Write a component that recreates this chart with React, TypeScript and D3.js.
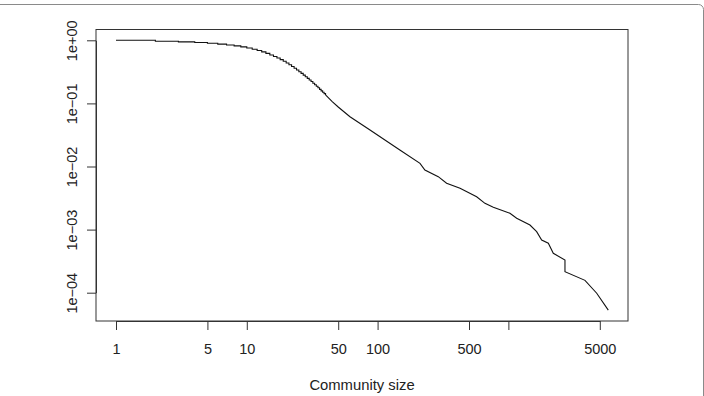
import React, { useEffect, useRef } from "react";
import * as d3 from "d3";

// community sizes with tied values (drawn as a staircase)
const headSizes = [1, 2, 3, 4, 5, 6, 7, 8, 9, 10, 11, 12, 13, 14, 15, 16, 17, 18, 19, 20,
  21, 22, 23, 24, 25, 26, 27, 28, 29, 30, 31, 32, 33, 34, 35, 36, 37, 38, 39, 40];
const headCcdf = [1.0, 0.965, 0.945, 0.925, 0.9, 0.87, 0.842, 0.815, 0.787, 0.755,
  0.722, 0.689, 0.655, 0.62, 0.586, 0.554, 0.523, 0.494, 0.465, 0.437,
  0.41, 0.385, 0.361, 0.339, 0.318, 0.299, 0.281, 0.264, 0.249, 0.235,
  0.222, 0.209, 0.198, 0.187, 0.177, 0.167, 0.158, 0.15, 0.143, 0.136];

// larger, distinct community sizes
const tailSizes = [40, 45, 50, 61.5, 87.5, 148, 211, 230, 291, 337, 427, 572, 662, 767,
  1028, 1157, 1462, 1645, 1797, 2020, 2205, 2708, 2708, 3852, 4736, 5805];
const tailCcdf = [0.136, 0.107, 0.0876, 0.0615, 0.0379, 0.0183, 0.0112, 0.0088, 0.0069,
  0.00542, 0.00451, 0.00332, 0.00261, 0.00226, 0.00181, 0.00151, 0.00118, 0.000926,
  0.000684, 0.000607, 0.000421, 0.00033, 0.000215, 0.000157, 0.000098, 0.000053];

const xTicks = [1, 5, 10, 50, 100, 500, 1000, 5000];
const xTickLabels = ["1", "5", "10", "50", "100", "500", "", "5000"];
const yTicks = [1, 0.1, 0.01, 0.001, 0.0001];
const yTickLabels = ["1e+00", "1e\u221201", "1e\u221202", "1e\u221203", "1e\u221204"];

const FONT = "'Liberation Sans', Arial, Helvetica, sans-serif";

const drawChart = (node: SVGSVGElement) => {
  const svg = d3.select(node);
  svg.selectAll("*").remove();

  // plot box edges
  const box = { left: 96, right: 628, top: 29.5, bottom: 321 };

  const x = d3.scaleLog().domain([1, 5000]).range([116, 599.8]);
  const y = d3.scaleLog().domain([1, 0.0001]).range([40.3, 292.7]);

  // outer figure frame
  svg.append("rect")
    .attr("x", -10).attr("y", 4.5)
    .attr("width", 713.5).attr("height", 500)
    .attr("rx", 5)
    .attr("fill", "none")
    .attr("stroke", "#8a8a8a")
    .attr("stroke-width", 1);

  // plot box
  svg.append("rect")
    .attr("x", box.left).attr("y", box.top)
    .attr("width", box.right - box.left).attr("height", box.bottom - box.top)
    .attr("fill", "none")
    .attr("stroke", "#333")
    .attr("stroke-width", 1);

  // x axis
  const xAxis = svg.append("g")
    .attr("transform", "translate(0," + box.bottom + ")")
    .call(d3.axisBottom(x)
      .tickValues(xTicks)
      .tickFormat((d, i) => xTickLabels[i])
      .tickSize(9)
      .tickSizeOuter(0)
      .tickPadding(14));
  xAxis.select(".domain").attr("stroke", "#333");
  xAxis.selectAll("line").attr("stroke", "#333");
  xAxis.selectAll("text")
    .style("font-family", FONT)
    .style("font-size", "14.5px")
    .attr("fill", "#222");

  // y axis
  const yAxis = svg.append("g")
    .attr("transform", "translate(" + box.left + ",0)")
    .call(d3.axisLeft(y)
      .tickValues(yTicks)
      .tickFormat((d, i) => yTickLabels[i])
      .tickSize(9)
      .tickSizeOuter(0));
  yAxis.select(".domain").attr("stroke", "#333");
  yAxis.selectAll("line").attr("stroke", "#333");
  yAxis.selectAll("text")
    .attr("transform", "rotate(-90)")
    .attr("x", 0)
    .attr("y", -19.5)
    .attr("dy", 0)
    .attr("text-anchor", "middle")
    .style("font-family", FONT)
    .style("font-size", "14.5px")
    .attr("fill", "#222");

  // x label
  svg.append("text")
    .attr("x", (box.left + box.right) / 2)
    .attr("y", 390)
    .attr("text-anchor", "middle")
    .style("font-family", FONT)
    .style("font-size", "14.8px")
    .attr("fill", "#222")
    .text("Community size");

  // CCDF curve: staircase part
  const head = headSizes.map((s, i) => [s, headCcdf[i]] as [number, number]);
  svg.append("path")
    .datum(head)
    .attr("fill", "none")
    .attr("stroke", "#111")
    .attr("stroke-width", 1.1)
    .attr("d", d3.line<[number, number]>()
      .x(d => x(d[0]))
      .y(d => y(d[1]))
      .curve(d3.curveStepAfter));

  // CCDF curve: tail
  const tail = tailSizes.map((s, i) => [s, tailCcdf[i]] as [number, number]);
  svg.append("path")
    .datum(tail)
    .attr("fill", "none")
    .attr("stroke", "#111")
    .attr("stroke-width", 1.1)
    .attr("d", d3.line<[number, number]>()
      .x(d => x(d[0]))
      .y(d => y(d[1])));
};

const App = () => {
  const ref = useRef<SVGSVGElement>(null);

  useEffect(() => {
    if (ref.current) drawChart(ref.current);
  }, []);

  return (
    <svg
      ref={ref}
      width={704}
      height={396}
      style={{ position: "absolute", left: 0, top: 0, background: "#fff" }}
    />
  );
};

export default App;
